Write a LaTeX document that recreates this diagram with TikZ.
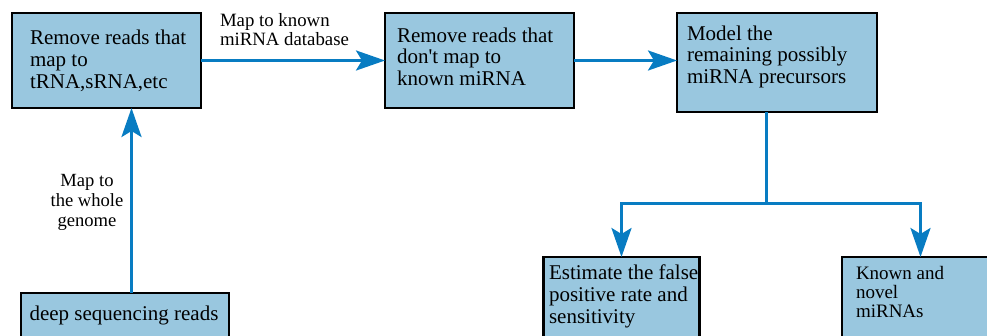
\documentclass[tikz,border=0pt]{standalone}
\usepackage{fontspec}
\setmainfont{Liberation Serif}
\usetikzlibrary{arrows.meta}
\definecolor{boxfill}{RGB}{153,199,223}
\definecolor{arrowblue}{RGB}{8,124,194}
\newcommand{\straightq}{{\addfontfeature{Ligatures=TeXOff}'}}
\tikzset{
  box/.style={draw=black, line width=2.2pt, fill=boxfill, inner sep=0pt, outer sep=0pt, anchor=north west},
  txt/.style={inner sep=0pt, outer sep=0pt, align=left, anchor=base west, font=\fontsize{21}{21.7}\selectfont},
  lbl/.style={inner sep=0pt, outer sep=0pt},
  link/.style={draw=arrowblue, line width=3pt},
  arr/.style={link, -{Stealth[length=29pt,width=20pt,inset=6pt]}},
}
\begin{document}
\begin{tikzpicture}[x=1pt,y=-1pt]
\useasboundingbox (0,0) rectangle (987,335);
\clip (0,0) rectangle (987,335);
% boxes
\node[box, minimum width=189pt, minimum height=95pt] (b1) at (12,13) {};
\node[box, minimum width=189pt, minimum height=95pt] (b2) at (385,13) {};
\node[box, minimum width=200pt, minimum height=99pt] (b3) at (677,13) {};
\node[box, minimum width=208pt, minimum height=80pt] (b4) at (21,293) {};
\node[box, minimum width=156pt, minimum height=100pt] (b5) at (543.5,257) {};
\node[box, minimum width=157pt, minimum height=100pt] (b6) at (842,257) {};
% texts (anchored at the baseline of their last line)
\node[txt] (t1) at (30,88) {Remove reads that\\map to\\tRNA,sRNA,etc};
\node[txt] (t2) at (397,85.5) {Remove reads that\\don\straightq t map to\\known miRNA};
\node[txt] (t3) at (687,83.5) {Model the\\remaining possibly\\miRNA precursors};
\node[txt] (t4) at (29.5,320) {deep sequencing reads};
\begin{scope}
\clip (545,258) rectangle (698.5,335);
\node[txt] (t5) at (549,323.3) {Estimate the false\\positive rate and\\sensitivity};
\end{scope}
\node[txt, font=\fontsize{19}{19}\selectfont] (t6) at (856,317.3) {Known and\\novel\\miRNAs};
% labels
\node[lbl, align=left, anchor=base west, font=\fontsize{18.8}{19}\selectfont] (l1) at (220,45) {Map to known\\miRNA database};
\node[lbl, align=center, anchor=base, font=\fontsize{18.6}{20}\selectfont] (l2) at (87,226.7) {Map to\\the whole\\genome};
% connectors
\coordinate (up) at (131.5,0);
\coordinate (split) at (766.5,203);
\draw[arr] (b1.east) -- (b2.west);
\draw[arr] (b2.east) -- (b2.east -| b3.west);
\draw[arr] (b4.north -| up) -- (b1.south -| up);
\draw[link] (b3.south -| split) -- (split);
\draw[arr] (split) -| (b5.north);
\draw[arr] (split) -| (b6.north);
\end{tikzpicture}
\end{document}
